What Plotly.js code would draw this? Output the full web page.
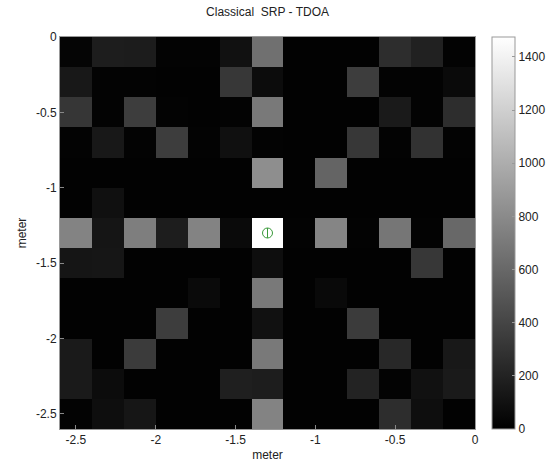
<!DOCTYPE html>
<html>
<head>
<meta charset="utf-8">
<script src="https://cdn.plot.ly/plotly-3.0.1.min.js"></script>
<style>html,body{margin:0;padding:0;background:#fff;}#chart{width:555px;height:470px;}</style>
</head>
<body>
<div id="chart"></div>
<script>
// grid coordinates (meter)
const xCenters = [-2.5, -2.3, -2.1, -1.9, -1.7, -1.5, -1.3, -1.1, -0.9, -0.7, -0.5, -0.3, -0.1];
const yCenters = [-0.1, -0.3, -0.5, -0.7, -0.9, -1.1, -1.3, -1.5, -1.7, -1.9, -2.1, -2.3, -2.5];
// SRP power values, one row per y (top to bottom)
const row0  = [ 30, 170, 160,  20,  20, 100,  650,  10,  10,  10, 260, 190,  20];
const row1  = [140,  20,  20,  10,  10, 320,   70,  10,  10, 350,  20,  20,  60];
const row2  = [310,  20, 350,  20,  10,  20,  700,  10,  10,  10, 150,  20, 260];
const row3  = [ 20, 140,  20, 350,  20,  90,   20,  10,  10, 320,  20, 290,  20];
const row4  = [ 10,  10,  10,  10,  10,  10,  820,  10, 580,  10,  10,  10,  10];
const row5  = [ 10,  90,  10,  10,  10,  10,   10,  10,  10,  10,  10,  10,  10];
const row6  = [760, 120, 730, 170, 760,  60, 1475,  20, 770,  20, 680,  20, 600];
const row7  = [120, 130,  10,  10,  10,  10,   80,  10,  10,  10,  10, 320,  10];
const row8  = [ 10,  10,  10,  10,  60,  10,  700,  10,  50,  10,  10,  10,  10];
const row9  = [ 10,  10,  10, 350,  10,  10,  100,  10,  10, 340,  10,  10,  10];
const row10 = [150,  10, 340,  10,  10,  10,  700,  10,  10,  10, 230,  10, 140];
const row11 = [150,  70,  10,  10,  10, 180,  170,  10,  10, 200,  20, 100, 150];
const row12 = [ 20,  80, 130,  10,  10,  10,  760,  10,  10,  10, 260,  80,  10];
const zRows = [row0,row1,row2,row3,row4,row5,row6,row7,row8,row9,row10,row11,row12];
// estimated source position
const srcX = [-1.3];
const srcY = [-1.3];
const xTicks = [-2.5, -2, -1.5, -1, -0.5, 0];
const yTicks = [0, -0.5, -1, -1.5, -2, -2.5];
const cbTicks = [0, 200, 400, 600, 800, 1000, 1200, 1400];

const font = {family: 'Liberation Sans, Arial, sans-serif', size: 12, color: '#222'};

const heat = {
  type: 'heatmap',
  x: xCenters, y: yCenters, z: zRows,
  colorscale: [[0, '#000000'], [1, '#ffffff']],
  zmin: 0, zmax: 1475,
  xgap: 0, ygap: 0,
  colorbar: {
    xref: 'container', yref: 'paper',
    x: 492 / 555, xanchor: 'left', xpad: 0,
    y: 0, yanchor: 'bottom', ypad: 0, len: 1, lenmode: 'fraction',
    thickness: 23, thicknessmode: 'pixels',
    outlinecolor: '#999', outlinewidth: 1,
    tickvals: cbTicks, ticks: 'inside', ticklen: 3, tickcolor: '#999',
    tickfont: font
  }
};
const srcCircle = {
  type: 'scatter', mode: 'markers', x: srcX, y: srcY,
  marker: {symbol: 'circle-open', size: 10, color: '#3a9a3a', line: {width: 1, color: '#3a9a3a'}},
  showlegend: false, hoverinfo: 'skip'
};
const srcBar = {
  type: 'scatter', mode: 'markers', x: srcX, y: srcY,
  marker: {symbol: 'line-ns-open', size: 7, color: '#3a9a3a', line: {width: 1, color: '#3a9a3a'}},
  showlegend: false, hoverinfo: 'skip'
};

const layout = {
  width: 555, height: 470,
  margin: {l: 60, r: 80, t: 37, b: 41},
  paper_bgcolor: '#fff', plot_bgcolor: '#000',
  font: font,
  title: {text: 'Classical  SRP - TDOA', font: {family: font.family, size: 12, color: '#222'}, x: 0.482, xanchor: 'center', y: 0.975, yanchor: 'middle'},
  xaxis: {
    range: [-2.6, 0], tickvals: xTicks, ticktext: xTicks.map(String),
    ticks: 'inside', ticklen: 4, tickcolor: '#888',
    showline: true, mirror: true, linecolor: '#999', linewidth: 1,
    showgrid: false, zeroline: false,
    title: {text: 'meter', font: font, standoff: 4}
  },
  yaxis: {
    range: [-2.6, 0], tickvals: yTicks, ticktext: yTicks.map(String),
    ticks: 'inside', ticklen: 4, tickcolor: '#888',
    showline: true, mirror: true, linecolor: '#999', linewidth: 1,
    showgrid: false, zeroline: false,
    title: {text: 'meter', font: font, standoff: 6}
  }
};
Plotly.newPlot('chart', [heat, srcCircle, srcBar], layout, {displayModeBar: false, staticPlot: true});
</script>
</body>
</html>
